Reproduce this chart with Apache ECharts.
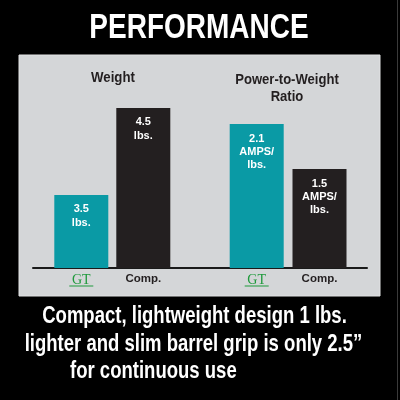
<!DOCTYPE html>
<html>
<head>
<meta charset="utf-8">
<script src="https://cdn.jsdelivr.net/npm/echarts@6/dist/echarts.min.js"></script>
<style>html,body{margin:0;padding:0;background:#000;}#c{width:400px;height:400px;}</style>
</head>
<body>
<div id="c"></div>
<script>
const categories = ['GT', 'Comp.'];
const weightValues = [3.5, 4.5];
const weightUnits = ['lbs.', 'lbs.'];
const ratioValues = [2.1, 1.5];
const ratioUnits = ['AMPS/\nlbs.', 'AMPS/\nlbs.'];
const panelTitles = ['Weight', 'Power-to-Weight', 'Ratio'];
const mainTitle = 'PERFORMANCE';
const captionLines = ['Compact, lightweight design 1 lbs.', 'lighter and slim barrel grip is only 2.5\u201D', 'for continuous use'];

const SANS = '"Liberation Sans", Arial, sans-serif';
const TEAL = '#0a9aa5';
const DARK = '#231f20';
const GREEN = '#1f9a3c';

const chart = echarts.init(document.getElementById('c'), null, {renderer: 'canvas'});

function catAxis(gridIndex) {
  return {
    type: 'category', gridIndex: gridIndex, data: categories,
    axisLine: {show: false}, axisTick: {show: false},
    axisLabel: {
      show: true, margin: 5, interval: 0,
      formatter: function (v) { return v === 'GT' ? '{g|GT}\n{u|}' : '{c|' + v + '}'; },
      rich: {
        g: {fontFamily: '"Liberation Serif", "DejaVu Serif", serif', fontSize: 14, color: GREEN, lineHeight: 12, verticalAlign: 'top'},
        u: {width: 24, height: 1, backgroundColor: GREEN, lineHeight: 2},
        c: {fontFamily: SANS, fontWeight: 'bold', fontSize: 11.5, color: DARK, lineHeight: 12}
      }
    }
  };
}

function valAxis(gridIndex, min, max) {
  return {type: 'value', gridIndex: gridIndex, min: min, max: max, show: false, splitLine: {show: false}};
}

function barLabel(units, lh, dist) {
  return {
    show: true, position: 'insideTop', distance: dist,
    fontFamily: SANS, fontWeight: 'bold', fontSize: 11, lineHeight: lh, color: '#ffffff',
    formatter: function (p) { return p.value + '\n' + units[p.dataIndex]; }
  };
}

function condText(text, x, y, size, scale, color, align) {
  return {type: 'text', x: x, y: y, scaleX: scale, z: 10,
    style: {text: text, fill: color, font: 'bold ' + size + 'px ' + SANS, textAlign: align, textVerticalAlign: 'middle'}};
}

const option = {
  backgroundColor: '#000000',
  animation: false,
  graphic: [
    {type: 'rect', shape: {x: 19, y: 55, width: 361, height: 241}, style: {fill: '#d4d6d8', stroke: '#e2e3e4', lineWidth: 1}, z: -10},
    {type: 'rect', shape: {x: 397, y: 0, width: 1, height: 400}, style: {fill: '#3a3a3a'}, z: -10},
    condText(mainTitle, 199, 28, 35, 0.8, '#ffffff', 'center'),
    condText(panelTitles[0], 113, 78, 15.4, 0.86, DARK, 'center'),
    condText(panelTitles[1], 287, 79.5, 15.4, 0.85, DARK, 'center'),
    condText(panelTitles[2], 287, 97, 15.4, 0.85, DARK, 'center'),
    condText(captionLines[0], 194.5, 316, 24.5, 0.756, '#ffffff', 'center'),
    condText(captionLines[1], 193.5, 344, 24.5, 0.756, '#ffffff', 'center'),
    condText(captionLines[2], 70, 371, 24.5, 0.756, '#ffffff', 'left')
  ],
  grid: [
    {left: 50.3, width: 124, top: 55, bottom: 132},
    {left: 225.3, width: 125.6, top: 55, bottom: 132},
    {left: 33, right: 33, top: 55, bottom: 132}
  ],
  xAxis: [
    catAxis(0),
    catAxis(1),
    {type: 'category', gridIndex: 2, data: [''], axisTick: {show: false}, axisLabel: {show: false},
      axisLine: {show: true, lineStyle: {color: '#1a1a1a', width: 2}}}
  ],
  yAxis: [
    valAxis(0, 2.66, 5.11),
    valAxis(1, 0.18, 3.02),
    {type: 'value', gridIndex: 2, show: false, min: 0, max: 1}
  ],
  series: [
    {type: 'bar', xAxisIndex: 0, yAxisIndex: 0, barWidth: 54,
      data: weightValues.map(function (v, i) { return {value: v, itemStyle: {color: i === 0 ? TEAL : DARK}}; }),
      label: barLabel(weightUnits, 14, 7)},
    {type: 'bar', xAxisIndex: 1, yAxisIndex: 1, barWidth: 54,
      data: ratioValues.map(function (v, i) { return {value: v, itemStyle: {color: i === 0 ? TEAL : DARK}}; }),
      label: barLabel(ratioUnits, 13, 8)}
  ]
};
chart.setOption(option);
</script>
</body>
</html>
